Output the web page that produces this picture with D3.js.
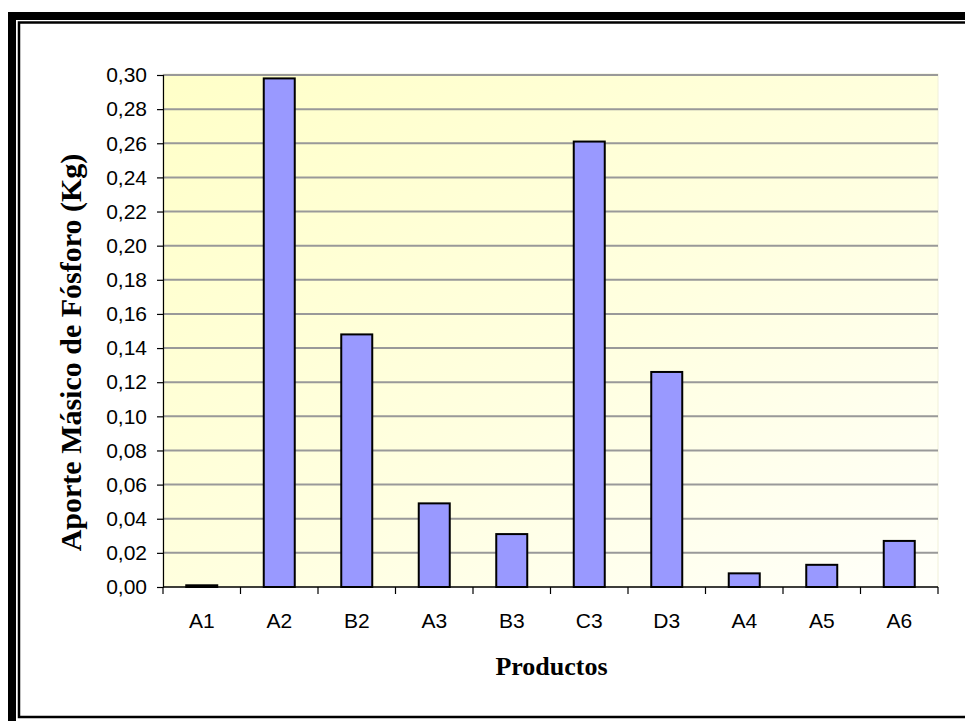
<!DOCTYPE html>
<html>
<head>
<meta charset="utf-8">
<script src="https://cdn.jsdelivr.net/npm/d3@7"></script>
<style>
  html, body { margin: 0; padding: 0; background: #fff; }
  svg { display: block; }
</style>
</head>
<body>
<svg id="chart" width="965" height="721"></svg>
<script>
// Phosphorus mass contribution per product
const categories = ["A1", "A2", "B2", "A3", "B3", "C3", "D3", "A4", "A5", "A6"];
const values = [0.001, 0.298, 0.148, 0.049, 0.031, 0.261, 0.126, 0.008, 0.013, 0.027];
const yTicks = [0, 0.02, 0.04, 0.06, 0.08, 0.10, 0.12, 0.14, 0.16, 0.18, 0.20, 0.22, 0.24, 0.26, 0.28, 0.30];
const yTitle = "Aporte Másico de Fósforo (Kg)";
const xTitle = "Productos";

const svg = d3.select("#chart");
const W = 965, H = 721;

// Double frame: thick outer rule, thin inner rule
svg.append("rect").attr("x", 12).attr("y", 16).attr("width", W + 20).attr("height", H + 20)
  .attr("fill", "none").attr("stroke", "#000").attr("stroke-width", 8);
svg.append("rect").attr("x", 19).attr("y", 22.5).attr("width", W).attr("height", 694.5)
  .attr("fill", "none").attr("stroke", "#000").attr("stroke-width", 2.5);

const plot = { left: 163, top: 74, right: 938, bottom: 587 };

const xBand = d3.scaleBand().domain(categories).range([plot.left, plot.right]);
const y = d3.scaleLinear().domain([0, 0.30]).range([plot.bottom, 75]);

// Plot area gradient fill
const defs = svg.append("defs");
const grad = defs.append("linearGradient").attr("id", "bg")
  .attr("x1", "0%").attr("y1", "0%").attr("x2", "100%").attr("y2", "100%");
grad.append("stop").attr("offset", "0%").attr("stop-color", "#ffffc8");
grad.append("stop").attr("offset", "55%").attr("stop-color", "#ffffe0");
grad.append("stop").attr("offset", "100%").attr("stop-color", "#fffffa");
svg.append("rect").attr("x", plot.left).attr("y", plot.top)
  .attr("width", plot.right - plot.left).attr("height", plot.bottom - plot.top)
  .attr("fill", "url(#bg)").attr("stroke", "#f0f0d8").attr("stroke-width", 1);

// Gridlines
svg.append("g").selectAll("line").data(yTicks.filter(d => d > 0)).join("line")
  .attr("x1", plot.left).attr("x2", plot.right)
  .attr("y1", d => y(d)).attr("y2", d => y(d))
  .attr("stroke", "#999").attr("stroke-width", 2);

// Bars
const bw = 31;
svg.append("g").selectAll("rect").data(values).join("rect")
  .attr("x", (d, i) => xBand(categories[i]) + xBand.bandwidth() / 2 - bw / 2)
  .attr("y", d => y(d))
  .attr("width", bw)
  .attr("height", d => y(0) - y(d))
  .attr("fill", "#9999ff").attr("stroke", "#000").attr("stroke-width", 2);

// Y axis
const fmt = d => d3.format(".2f")(d).replace(".", ",");
const yAxis = svg.append("g").attr("transform", `translate(${plot.left},0)`)
  .call(d3.axisLeft(y).tickValues(yTicks).tickFormat(fmt).tickSize(6).tickPadding(10));
yAxis.select(".domain").attr("stroke", "#000").attr("stroke-width", 1.2);
yAxis.selectAll(".tick line").attr("stroke", "#000").attr("stroke-width", 1.2);
yAxis.selectAll("text").attr("font-family", "Arial, 'Liberation Sans', sans-serif")
  .style("font-size", "21px").attr("fill", "#000");

// X axis with ticks at category boundaries
const xAxis = svg.append("g").attr("transform", `translate(0,${plot.bottom})`);
xAxis.append("line").attr("x1", plot.left).attr("x2", plot.right)
  .attr("stroke", "#000").attr("stroke-width", 1.5);
const bounds = categories.map(c => xBand(c)).concat([plot.right]);
xAxis.selectAll("line.tk").data(bounds).join("line").attr("class", "tk")
  .attr("x1", d => d).attr("x2", d => d).attr("y1", 0).attr("y2", 7)
  .attr("stroke", "#000").attr("stroke-width", 1.2);
xAxis.selectAll("text").data(categories).join("text")
  .attr("x", d => xBand(d) + xBand.bandwidth() / 2).attr("y", 41)
  .attr("text-anchor", "middle")
  .attr("font-family", "Arial, 'Liberation Sans', sans-serif")
  .style("font-size", "21px").attr("fill", "#000").text(d => d);

// Axis titles
svg.append("text").attr("x", (plot.left + plot.right) / 2 + 1).attr("y", 675)
  .attr("text-anchor", "middle")
  .attr("font-family", "'Times New Roman', 'Liberation Serif', serif")
  .attr("font-weight", "bold").style("font-size", "26px").attr("fill", "#000").text(xTitle);
svg.append("text")
  .attr("transform", `translate(81,${(plot.top + plot.bottom) / 2 + 22}) rotate(-90)`)
  .attr("text-anchor", "middle")
  .attr("font-family", "'Times New Roman', 'Liberation Serif', serif")
  .attr("font-weight", "bold").style("font-size", "30px").attr("fill", "#000").text(yTitle);
</script>
</body>
</html>
